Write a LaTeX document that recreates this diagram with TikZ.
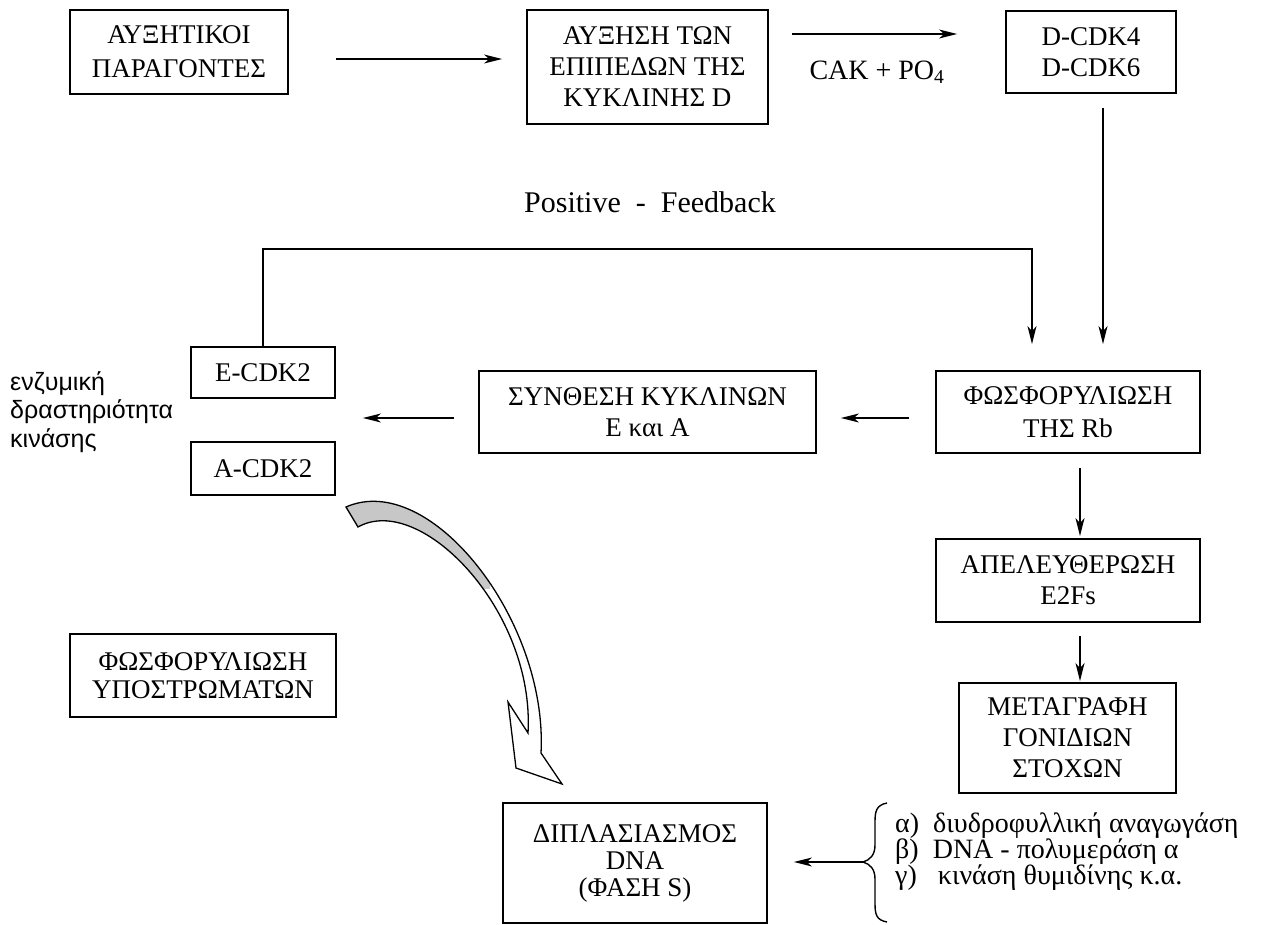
\documentclass[tikz,border=0pt]{standalone}
\usepackage{fontspec}
\setmainfont{Liberation Serif}
\newfontfamily\sansf{Liberation Sans}
\usetikzlibrary{arrows.meta,calc}
\begin{document}
\begin{tikzpicture}[x=1pt,y=-1pt,
  box/.style={draw, line width=1.8pt, align=center, inner sep=0pt,
    font=\fontsize{27}{31}\selectfont},
  arr/.style={-{Stealth[length=18pt,width=9pt,inset=5pt]}, line width=1.5pt},
  plain/.style={inner sep=0pt}]
\useasboundingbox (0,0) rectangle (1263,925);

% boxes
\node[box, minimum width=218, minimum height=84, font=\fontsize{27}{34}\selectfont] (gf) at (179,52) {ΑΥΞΗΤΙΚΟΙ\\ΠΑΡΑΓΟΝΤΕΣ};
\node[box, minimum width=241, minimum height=114] (cyd) at (647.5,67) {ΑΥΞΗΣΗ ΤΩΝ\\ΕΠΙΠΕΔΩΝ ΤΗΣ\\ΚΥΚΛΙΝΗΣ D};
\node[box, minimum width=170, minimum height=82] (dcdk) at (1091,52) {D-CDK4\\D-CDK6};
\node[box, minimum width=264, minimum height=82, font=\fontsize{27}{33}\selectfont] (rb) at (1068,412) {ΦΩΣΦΟΡΥΛΙΩΣΗ\\ΤΗΣ Rb};
\node[box, minimum width=337, minimum height=82] (syn) at (647.5,412) {ΣΥΝΘΕΣΗ ΚΥΚΛΙΝΩΝ\\Ε και Α};
\node[box, minimum width=144, minimum height=51] (ecdk) at (263,372.5) {E-CDK2};
\node[box, minimum width=144, minimum height=53] (acdk) at (263,468.5) {A-CDK2};
\node[box, minimum width=266, minimum height=83, font=\fontsize{27}{28}\selectfont] (fosf) at (203,675.5) {ΦΩΣΦΟΡΥΛΙΩΣΗ\\ΥΠΟΣΤΡΩΜΑΤΩΝ};
\node[box, minimum width=264, minimum height=83] (e2f) at (1068,580.5) {ΑΠΕΛΕΥΘΕΡΩΣΗ\\E2Fs};
\node[box, minimum width=217, minimum height=110] (meta) at (1067.5,738) {ΜΕΤΑΓΡΑΦΗ\\ΓΟΝΙΔΙΩΝ\\ΣΤΟΧΩΝ};
\node[box, minimum width=264, minimum height=120, font=\fontsize{27}{27}\selectfont] (dna) at (635,863) {ΔΙΠΛΑΣΙΑΣΜΟΣ\\DNA\\(ΦΑΣΗ S)};

% free texts
\node[plain, font=\fontsize{28}{30}\selectfont] (cak) at (877,72) {CAK + PO\textsubscript{4}};
\node[plain, font=\fontsize{30}{32}\selectfont] (pf) at (650,202) {Positive\ \ -\ \ Feedback};
\node[plain, anchor=west, align=left, font=\sansf\fontsize{25}{28.5}\selectfont] (enz) at (10,412) {ενζυμική\\δραστηριότητα\\κινάσης};
\node[plain, anchor=west, align=left, font=\fontsize{28}{26}\selectfont] (items) at (895,852) {α)\ \ διυδροφυλλική αναγωγάση\\β)\ \ DNA - πολυμεράση α\\γ)\ \ \ κινάση θυμιδίνης κ.α.};

% brace
\coordinate (br) at (863,862);
\draw[line width=1.4pt] (887,803) .. controls (876,805) and (875,812) .. (875,822)
  -- (875,845) .. controls (875,855) and (870,860) .. (br)
  .. controls (870,864) and (875,869) .. (875,879)
  -- (875,903) .. controls (875,914) and (876,920) .. (887,922);

% straight arrows
\coordinate (eamid) at ($(ecdk.east)!0.5!(acdk.east)+(27,0)$);
\coordinate (a4) at ($(syn.west)+(-24,6)$);
\draw[arr] ($(gf.east)+(47,7)$) -- ($(cyd.west)+(-24,-8)$);
\draw[arr] ($(cyd.east)+(23,-33)$) -- ($(dcdk.west)+(-48,-18)$);
\draw[arr] ($(dcdk.south)+(12,14)$) -- ($(rb.north)+(35,-26)$);
\draw[arr] (ecdk.north) -- ++(0,-97) -| ($(rb.north)+(-36,-26)$);
\draw[arr] ($(rb.west)+(-26,6)$) -- ($(syn.east)+(24,6)$);
\draw[arr] (a4) -- (eamid |- a4);
\draw[arr] ($(rb.south)+(12,14)$) -- ($(e2f.north)+(12,-2)$);
\draw[arr] ($(e2f.south)+(12,13)$) -- ($(meta.north)+(12.5,-1)$);
\draw[arr] (br) -- ($(dna.east |- br)+(26,0)$);

% curved ribbon arrow
\def\ribbon{(346,507) .. controls (430,470) and (548,620) .. (541,753)
  -- (562,784) -- (516,768) -- (508,702) -- (528,733)
  .. controls (535,610) and (420,492) .. (358,527) -- cycle}
\fill[white] \ribbon;
\begin{scope}
  \clip (0,0) rectangle (490,588);
  \fill[black!22] \ribbon;
\end{scope}
\draw[line width=1.3pt, line join=miter] \ribbon;
\end{tikzpicture}
\end{document}
